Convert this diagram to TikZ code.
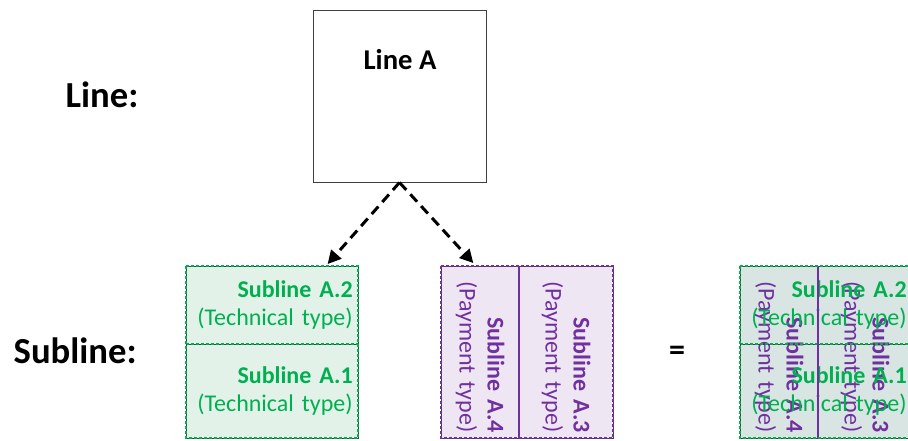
\documentclass[tikz,border=0pt]{standalone}
\usepackage{fontspec}
\setmainfont{Carlito}
\usetikzlibrary{arrows.meta}

\definecolor{techgreen}{HTML}{00B050}
\definecolor{techfill}{HTML}{E2F2E8}
\definecolor{paypurple}{HTML}{7030A0}
\definecolor{payfill}{HTML}{EEE6F3}
\definecolor{bothfill}{HTML}{D8E5E2}
\definecolor{edgegray}{HTML}{404040}

\tikzset{
  half/.style={rectangle, inner sep=4pt, minimum width=129pt, text width=121pt,
    align=right, font=\fontsize{18}{21}\selectfont},
  techhalf/.style={half, text=techgreen},
  payhalf/.style={half, text=paypurple, rotate=-90},
  level/.style={font=\bfseries\fontsize{27.5}{32}\selectfont, anchor=base west},
  linebox/.style={rectangle, draw=edgegray, line width=0.75pt, minimum width=129.75pt, minimum height=129pt},
  dasharrow/.style={-{Triangle[length=10pt,width=10pt]}, line width=2.25pt, dash pattern=on 7.5pt off 4.5pt},
  greenedge/.style={draw=techgreen, line width=1.5pt, dash pattern=on 2.25pt off 1.5pt,
    preaction={draw=edgegray, line width=0.75pt, solid}},
  purpleedge/.style={draw=paypurple, line width=1.5pt, dash pattern=on 2.25pt off 1.5pt,
    preaction={draw=edgegray, line width=0.75pt, solid}}
}

\begin{document}
\begin{tikzpicture}[x=0.75pt, y=-0.75pt]
    \useasboundingbox (0,0) rectangle (908,440);
    \clip (0,0) rectangle (908,440);

    % Level labels
    \node[level] (linelevel) at (61,107) {Line:};
    \node[level] (sublevel) at (9,363) {Subline:};

    % Line
    \node[linebox] (lineA) at (399.5,96) {};
    \node[font=\bfseries\fontsize{21.5}{25}\selectfont] (lineAlabel) at (400,60) {Line A};

    % Sublines of technical type
    \node[techhalf, fill=techfill, minimum height=57.75pt] (sub12) at (272,305.5) {\textbf{Subline A.2}\\(Technical type)};
    \node[techhalf, fill=techfill, minimum height=70.5pt] (sub11) at (272,391) {\textbf{Subline A.1}\\(Technical type)};
    \draw[greenedge] (sub12.south west) -- (sub12.south east);
    \draw[greenedge] (186,266) rectangle (358,438);

    % Sublines of payment type
    \node[payhalf, fill=payfill, minimum height=58.5pt] (sub14) at (480,352) {\textbf{Subline A.4}\\(Payment type)};
    \node[payhalf, fill=payfill, minimum height=70.5pt] (sub13) at (566,352) {\textbf{Subline A.3}\\(Payment type)};
    \draw[paypurple, line width=1.5pt] (519,266) -- (519,438);
    \draw[purpleedge] (441,266) rectangle (613,438);

    % Edges
    \draw[dasharrow] (lineA.south) -- ([xshift=-23pt,yshift=2pt]sub12.north east);
    \draw[dasharrow] (lineA.south) -- ([xshift=-5pt,yshift=2pt]sub14.west);

    \node[font=\bfseries\fontsize{24}{28}\selectfont] (equals) at (677,353) {=};

    % Both types together
    \fill[bothfill] (740,266) rectangle (912,438);
    \node[payhalf, minimum height=58.5pt] (both14) at (779,352) {\textbf{Subline A.4}\\(Payment type)};
    \node[payhalf, minimum height=70.5pt] (both13) at (865,352) {\textbf{Subline A.3}\\(Payment type)};
    \node[techhalf, minimum height=57.75pt] (both12) at (826,305.5) {\textbf{Subline A.2}\\(Technical type)};
    \node[techhalf, minimum height=70.5pt] (both11) at (826,391) {\textbf{Subline A.1}\\(Technical type)};
    \draw[greenedge] (740,344) -- (912,344);
    \draw[paypurple, line width=1.5pt] (818,266) -- (818,438);
    \draw[greenedge] (740,266) rectangle (912,438);
\end{tikzpicture}
\end{document}
